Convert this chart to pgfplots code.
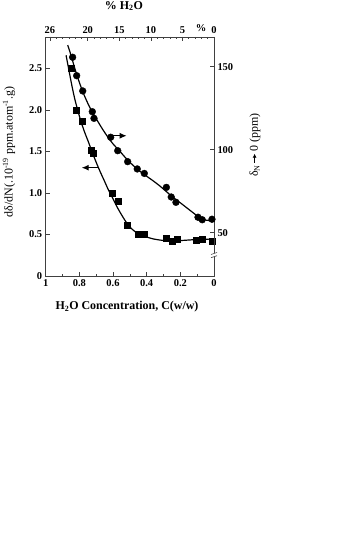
\documentclass[border=0pt]{standalone}
\usepackage{pgfplots}
\pgfplotsset{compat=1.18}
\usepackage{fontspec}
\setmainfont{Liberation Serif}
\usetikzlibrary{arrows.meta}
\begin{document}
\begin{tikzpicture}
\path[use as bounding box] (0,0) rectangle (353bp,-553bp);
\pgfplotsset{
  common/.style={
    at={(45.7bp,-276bp)}, anchor=south west,
    scale only axis, width=168.3bp, height=239bp,
    x dir=reverse, xmin=0, xmax=1,
    axis line style={black!75, line width=0.8pt},
    tick align=inside, major tick length=4bp, minor tick length=2.5bp,
    every tick/.style={black!75, line width=0.6pt},
    ticklabel style={font=\fontsize{10.5}{12}\selectfont\bfseries},
    clip=false,
  }
}
\begin{axis}[common,
  ymin=0, ymax=2.88,
  xtick pos=lower, ytick pos=left,
  xtick={0,0.2,0.4,0.6,0.8,1}, xticklabels={0,0.2,0.4,0.6,0.8,1},
  minor xtick={0.1,0.3,0.5,0.7,0.9},
  ytick={0,0.5,1,1.5,2,2.5}, yticklabels={0,0.5,1.0,1.5,2.0,2.5},
]
\addplot[black, line width=1.2pt, smooth, tension=0.5] coordinates {
(0.879,2.66)(0.862,2.48)(0.845,2.30)(0.828,2.14)(0.81,2.0)(0.79,1.86)(0.77,1.74)(0.747,1.62)(0.727,1.51)(0.70,1.37)(0.677,1.26)(0.65,1.14)(0.628,1.04)(0.60,0.93)(0.578,0.84)(0.55,0.74)(0.519,0.64)(0.49,0.57)(0.469,0.535)(0.44,0.50)(0.40,0.47)(0.361,0.447)(0.32,0.433)(0.281,0.425)(0.22,0.425)(0.162,0.432)(0.10,0.44)(0.05,0.443)(0.0,0.446)
};
\addplot[only marks, mark=square*, mark size=3bp, black] coordinates {
(0.850,2.50)(0.816,2.00)(0.783,1.871)(0.727,1.51)(0.718,1.478)(0.604,0.996)(0.572,0.907)(0.515,0.614)(0.450,0.506)(0.416,0.506)(0.283,0.454)(0.251,0.425)(0.220,0.442)(0.103,0.434)(0.071,0.449)(0.010,0.425)
};
\draw[black, line width=1.1pt, -{Latex[length=7bp,width=6bp]}] (axis cs:0.687,1.305) -- (axis cs:0.786,1.305);
\end{axis}
\begin{axis}[common,
  ymin=23.9, ymax=167.9,
  xtick pos=upper, xticklabel pos=upper, ytick pos=right, yticklabel pos=right,
  xtick={0,0.1875,0.3751,0.5626,0.7502,0.9752}, xticklabels={0,5,10,15,20,26},
  minor xtick={0.037509,0.075018,...,0.99},
  ytick={50,100,150}, yticklabels={50,100,150},
]
\addplot[black, line width=1.2pt, smooth, tension=0.5] coordinates {
(0.869,163)(0.85,157)(0.83,150)(0.81,143.5)(0.78,135)(0.75,128)(0.72,122)(0.69,117)(0.66,112)(0.63,107.5)(0.60,103.5)(0.559,99)(0.52,94.5)(0.48,90.5)(0.44,87)(0.40,84)(0.361,81.2)(0.32,78)(0.28,74.5)(0.24,71)(0.20,68)(0.162,65)(0.12,61.7)(0.083,58.9)(0.05,57.6)(0.02,57.3)(0.0,57.4)
};
\addplot[only marks, mark=*, mark size=3.4bp, black] coordinates {
(0.840,155.7)(0.816,144.6)(0.780,135.4)(0.723,122.9)(0.713,118.9)(0.614,107.5)(0.572,99.4)(0.513,92.8)(0.456,88.4)(0.414,85.7)(0.283,77.3)(0.254,71.5)(0.226,68.3)(0.095,59.3)(0.070,57.8)(0.012,58.1)
};
\draw[black, line width=1.1pt, -{Latex[length=7bp,width=6bp]}] (axis cs:0.608,108.4) -- (axis cs:0.519,108.4);
\fill[white] ([xshift=-3bp,yshift=-1.6bp]axis cs:0,36.5) rectangle ([xshift=3bp,yshift=1.6bp]axis cs:0,36.5);
\draw[black!75, line width=0.6pt] ([xshift=-3bp,yshift=-2.6bp]axis cs:0,36.5) -- ([xshift=3bp,yshift=-0.6bp]axis cs:0,36.5);
\draw[black!75, line width=0.6pt] ([xshift=-3bp,yshift=0.6bp]axis cs:0,36.5) -- ([xshift=3bp,yshift=2.6bp]axis cs:0,36.5);
\node[font=\fontsize{10.5}{12}\selectfont\bfseries, anchor=base] at ([yshift=5.5bp]axis cs:0.077,167.9) {\%};
\end{axis}
\node[font=\fontsize{12}{14}\selectfont\bfseries] at (124bp,-6bp) {\% H\textsubscript{2}O};
\node[font=\fontsize{12}{14}\selectfont\bfseries] at (127bp,-307bp) {H\textsubscript{2}O Concentration, C(w/w)};
\node[font=\fontsize{12}{14}\selectfont, rotate=90] at (9bp,-152bp) {dδ/dN(.10\textsuperscript{-19} ppm.atom\textsuperscript{-1}.g)};
\node[font=\fontsize{12}{14}\selectfont, rotate=90] at (255bp,-145bp) {δ\textsubscript{N}\,\tikz[baseline=-0.6ex]\draw[line width=0.8pt,-{Latex[length=4bp,width=4bp]}] (0,0) -- (9bp,0);\,0 (ppm)};
\end{tikzpicture}
\end{document}
